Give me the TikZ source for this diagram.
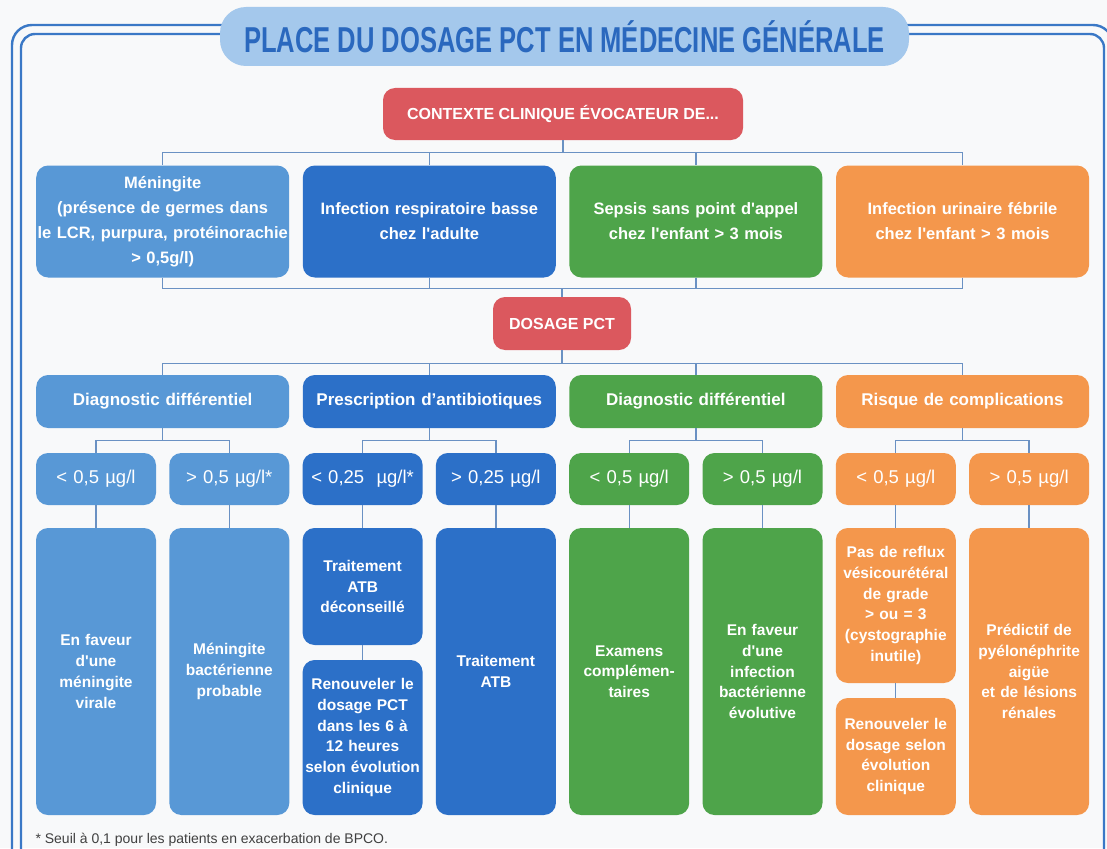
\documentclass[tikz,border=0pt]{standalone}
\usepackage{fontspec}
\setmainfont{Liberation Sans}
\usepackage{graphicx}
\definecolor{bluel}{RGB}{88,152,214}
\definecolor{blued}{RGB}{44,112,200}
\definecolor{greenc}{RGB}{78,164,74}
\definecolor{orangec}{RGB}{244,151,76}
\definecolor{redc}{RGB}{219,88,94}
\definecolor{linec}{RGB}{106,145,195}
\definecolor{framec}{RGB}{58,120,198}
\definecolor{pillc}{RGB}{164,200,236}
\definecolor{titlec}{RGB}{42,104,190}
\definecolor{paper}{RGB}{248,249,250}

\begin{document}
\begin{tikzpicture}[x=1pt,y=-1pt,
  box/.style={rounded corners=12pt,inner sep=1pt,align=center,text=white},
  redbox/.style={box,fill=redc,minimum height=52pt,font=\fontsize{16}{19}\selectfont\bfseries},
  big/.style={box,minimum width=253pt,text width=251pt,font=\fontsize{16.5}{25}\selectfont\bfseries},
  small/.style={box,minimum width=120pt,text width=118pt},
  conn/.style={draw=linec,line width=1.3pt},
  frame/.style={draw=framec,line width=2.4pt}]
\useasboundingbox (0,0) rectangle (1107,848);
\clip (0,0) rectangle (1107,848);
\fill[paper] (0,0) rectangle (1107,848);
% double frame, open at the bottom
\draw[frame,rounded corners=20pt] (12,860) -- (12,25) -- (1113,25) -- (1113,860);
\draw[frame,rounded corners=14pt] (21,860) -- (21,34) -- (1104,34) -- (1104,860);
\node[fill=pillc,rounded corners=26pt,minimum width=689pt,minimum height=59pt,text=titlec] (ttl) at (564.5,36.5)
  {\scalebox{0.71}[1]{\fontsize{36}{36}\selectfont\bfseries PLACE DU DOSAGE PCT EN MÉDECINE GÉNÉRALE}};
\node[redbox,minimum width=360pt] (ctx) at (563,114) {CONTEXTE CLINIQUE ÉVOCATEUR DE...};
\node[redbox,minimum width=138pt,minimum height=53pt] (dos) at (562,323.5) {DOSAGE PCT};
% clinical contexts
\foreach \x/\n/\col/\txt in {162.7/men/bluel/{Méningite\\(présence de germes dans\\le LCR, purpura, protéinorachie\\> 0,5g/l)},
    429.3/resp/blued/{Infection respiratoire basse\\chez l\textquotesingle adulte},
    695.9/seps/greenc/{Sepsis sans point d\textquotesingle appel\\chez l\textquotesingle enfant > 3 mois},
    962.5/uri/orangec/{Infection urinaire fébrile\\chez l\textquotesingle enfant > 3 mois}}
  \node[big,fill=\col,minimum height=112pt] (\n) at (\x,221.5) {\txt};
% goals of the test
\foreach \x/\n/\col/\txt in {162.7/dd1/bluel/{Diagnostic différentiel},429.3/abx/blued/{Prescription d’antibiotiques},
    695.9/dd2/greenc/{Diagnostic différentiel},962.5/risk/orangec/{Risque de complications}}
  \node[big,fill=\col,minimum height=53pt,font=\fontsize{17}{20}\selectfont\bfseries] (\n) at (\x,401.5) {\txt};
% thresholds
\foreach \i/\x/\col/\txt in {1/96/bluel/{< 0,5 µg/l},2/229.3/bluel/{> 0,5 µg/l*},3/362.6/blued/{< 0,25\ \ µg/l*},
    4/495.9/blued/{> 0,25 µg/l},5/629.2/greenc/{< 0,5 µg/l},6/762.5/greenc/{> 0,5 µg/l},
    7/895.8/orangec/{< 0,5 µg/l},8/1029.1/orangec/{> 0,5 µg/l}}
  \node[small,fill=\col,minimum height=52pt,font=\fontsize{18.5}{21}\selectfont] (t\i) at (\x,479) {\txt};
% outcomes
\foreach \n/\x/\y/\h/\col/\txt in {r1/96/671.5/287/bluel/{En faveur\\d\textquotesingle une\\méningite\\virale},
    r2/229.3/671.5/287/bluel/{Méningite\\bactérienne\\probable},
    r3/362.6/586.5/117/blued/{Traitement\\ATB\\déconseillé},
    r3b/362.6/737.5/155/blued/{Renouveler le\\dosage PCT\\dans les 6 à\\12 heures\\selon évolution\\clinique},
    r4/495.9/671.5/287/blued/{Traitement\\ATB},
    r5/629.2/671.5/287/greenc/{Examens\\complémen-\\taires},
    r6/762.5/671.5/287/greenc/{En faveur\\d\textquotesingle une\\infection\\bactérienne\\évolutive},
    r7/895.8/605.5/155/orangec/{Pas de reflux\\vésicourétéral\\de grade\\> ou = 3\\(cystographie\\inutile)},
    r7b/895.8/756.5/117/orangec/{Renouveler le\\dosage selon\\évolution\\clinique},
    r8/1029.1/671.5/287/orangec/{Prédictif de\\pyélonéphrite\\aigüe\\et de lésions\\rénales}}
  \node[small,fill=\col,minimum height=\h pt,font=\fontsize{15.5}{20.7}\selectfont\bfseries] (\n) at (\x,\y) {\txt};
% connectors
\foreach \n in {men,resp,seps,uri}{
  \draw[conn] (ctx.south) -- ++(0,12) -| (\n.north);
  \draw[conn] (\n.south) -- ++(0,11) -| (dos.north);}
\foreach \n in {dd1,abx,dd2,risk}
  \draw[conn] (dos.south) -- ++(0,13) -| (\n.north);
\foreach \p/\a/\b in {dd1/t1/t2,abx/t3/t4,dd2/t5/t6,risk/t7/t8}{
  \draw[conn] (\p.south) -- ++(0,12) -| (\a.north);
  \draw[conn] (\p.south) -- ++(0,12) -| (\b.north);}
\foreach \i in {1,...,8}
  \draw[conn] (t\i.south) -- (r\i.north);
\draw[conn] (r3.south) -- (r3b.north);
\draw[conn] (r7.south) -- (r7b.north);
\node[anchor=west,text=black!75,font=\fontsize{14}{16}\selectfont] (note) at (32,840)
  {* Seuil à 0,1 pour les patients en exacerbation de BPCO.};
\end{tikzpicture}
\end{document}
